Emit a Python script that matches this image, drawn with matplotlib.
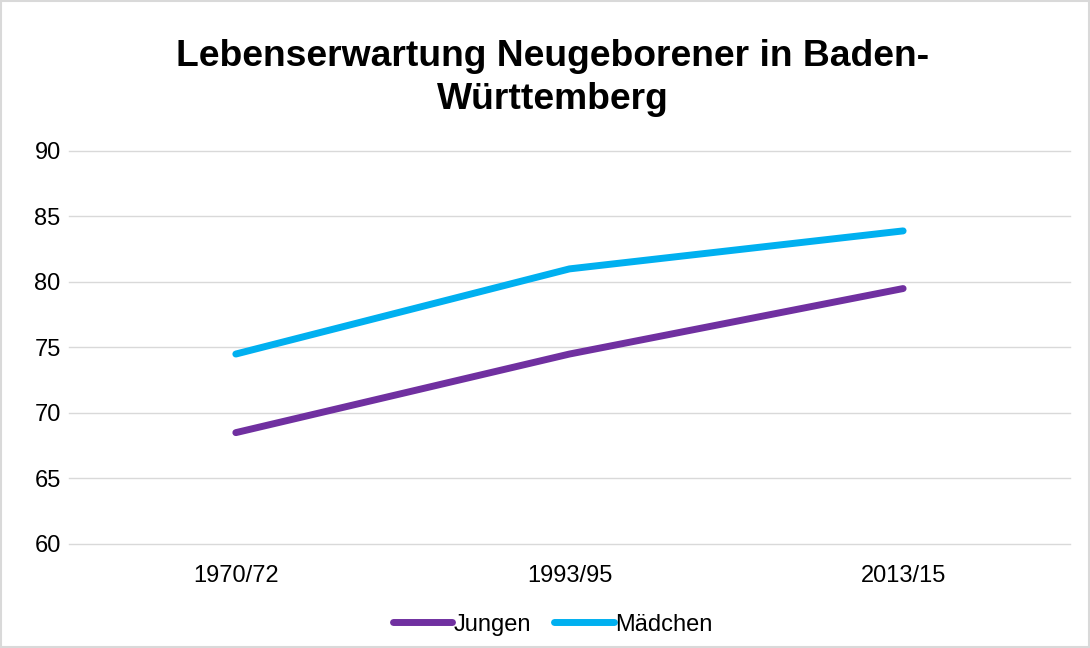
import matplotlib.pyplot as plt
from matplotlib.patches import Rectangle

plt.rcParams['font.family'] = ['Liberation Sans', 'DejaVu Sans']

categories = ['1970/72', '1993/95', '2013/15']
jungen = [68.5, 74.5, 79.5]
maedchen = [74.5, 81.0, 83.9]

fig = plt.figure(figsize=(10.9, 6.48), dpi=100)
ax = fig.add_axes([0.0633, 0.1605, 0.9183, 0.6065])

x = range(len(categories))
ax.plot(x, jungen, color='#7030A0', lw=5, solid_capstyle='round', label='Jungen')
ax.plot(x, maedchen, color='#00B0F0', lw=5, solid_capstyle='round', label='Mädchen')

ax.set_xlim(-0.5, len(categories) - 0.5)
ax.set_ylim(60, 90)
ax.set_yticks(range(60, 91, 5))
ax.set_xticks(list(x))
ax.set_xticklabels(categories)
ax.tick_params(length=0, labelsize=17, colors='#000000')
ax.tick_params(axis='x', pad=15)
ax.tick_params(axis='y', pad=6)
ax.grid(axis='y', color='#D9D9D9', lw=1)
for gl in ax.get_ygridlines():
    gl.set_clip_on(False)
ax.set_axisbelow(True)
for s in ax.spines.values():
    s.set_visible(False)

fig.suptitle('Lebenserwartung Neugeborener in Baden-\nWürttemberg',
             x=0.507, y=0.94, fontsize=26.8, fontweight='bold', linespacing=1.3)

fig.legend(loc='center', bbox_to_anchor=(0.507, 0.036), ncol=2, frameon=False,
           fontsize=17, handlelength=2.5, handletextpad=0.05, columnspacing=1.0)

fig.patches.append(Rectangle((0.001, 0.001), 0.998, 0.997, transform=fig.transFigure,
                             fill=False, edgecolor='#D9D9D9', lw=1.5))

fig.savefig('out.png', dpi=100)
